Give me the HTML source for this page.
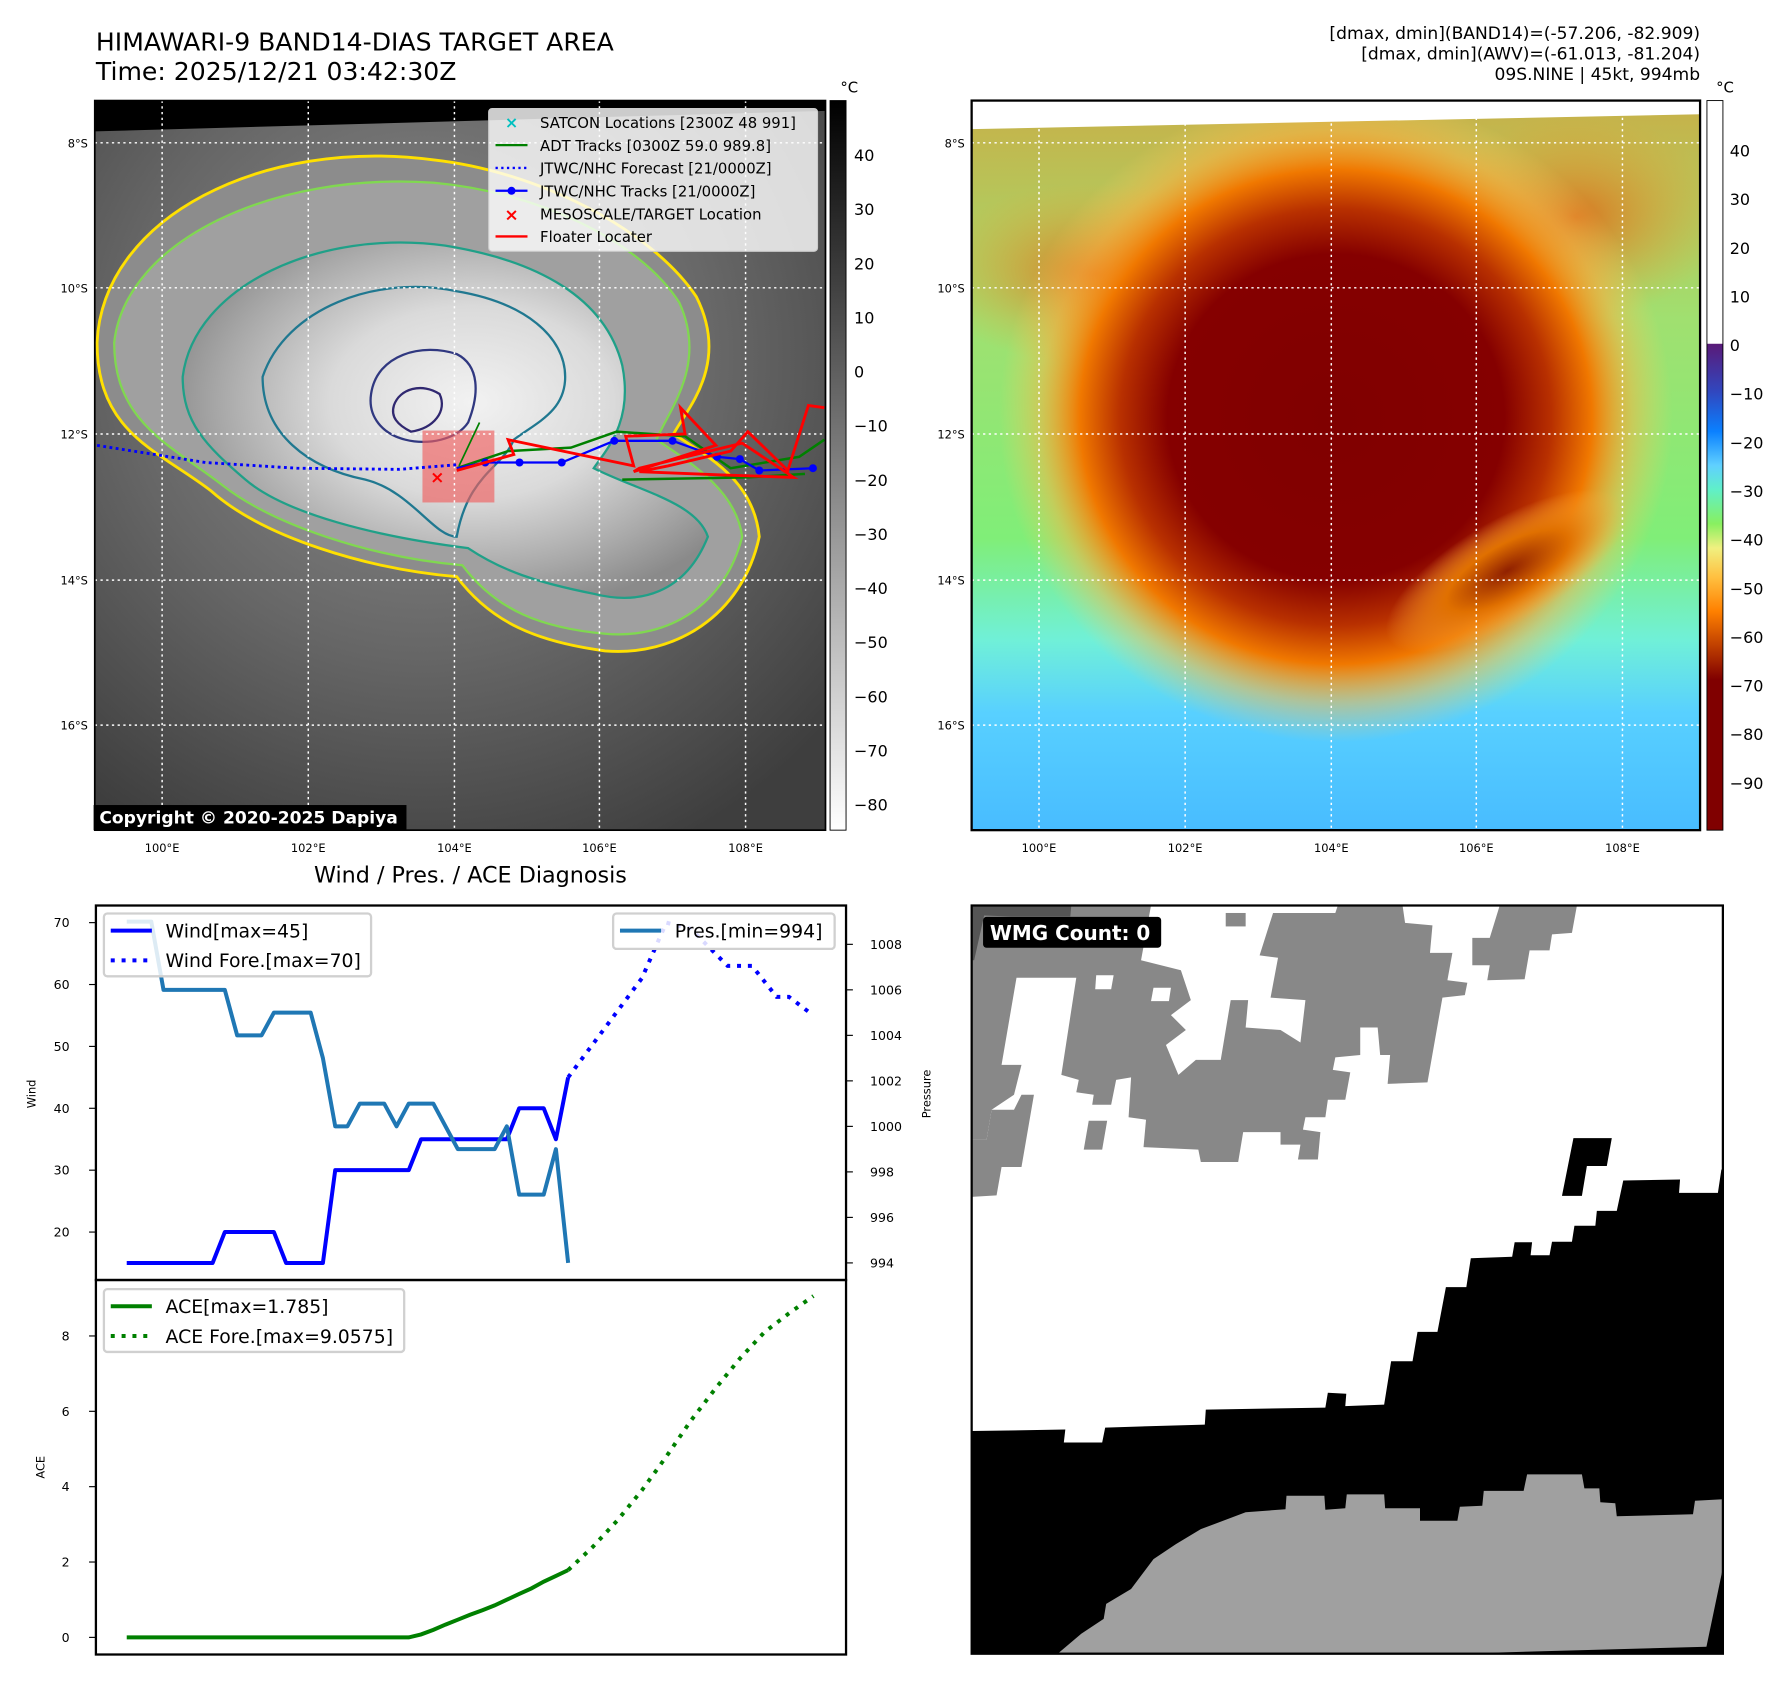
<!DOCTYPE html>
<html><head><meta charset="utf-8"><style>
html,body{margin:0;padding:0;background:#fff;}
svg{display:block;font-family:"DejaVu Sans","Liberation Sans",sans-serif;}
</style></head><body>
<svg id="root" width="1788" height="1690" viewBox="0 0 1566 1480" xmlns="http://www.w3.org/2000/svg">
<defs>
<radialGradient id="cloudG" cx="0.55" cy="0.45" r="0.6">
<stop offset="0" stop-color="#f2f2f2"/><stop offset="0.45" stop-color="#dadada"/><stop offset="0.8" stop-color="#a8a8a8"/><stop offset="1" stop-color="#8a8a8a"/>
</radialGradient>
<radialGradient id="bgG" cx="0.45" cy="0.35" r="0.75">
<stop offset="0" stop-color="#909090"/><stop offset="0.55" stop-color="#666"/><stop offset="1" stop-color="#3e3e3e"/>
</radialGradient>
<linearGradient id="cbGray" x1="0" y1="0" x2="0" y2="1">
<stop offset="0" stop-color="#000"/><stop offset="1" stop-color="#fff"/>
</linearGradient>
<linearGradient id="cbColor" x1="0" y1="0" x2="0" y2="1">
<stop offset="0" stop-color="#5a1a78"/><stop offset="0.1" stop-color="#3048c0"/><stop offset="0.18" stop-color="#0a80ff"/><stop offset="0.25" stop-color="#60d0ff"/><stop offset="0.3" stop-color="#60f0c8"/><stop offset="0.37" stop-color="#88f060"/><stop offset="0.42" stop-color="#f0f080"/><stop offset="0.48" stop-color="#ffc040"/><stop offset="0.55" stop-color="#ff8000"/><stop offset="0.62" stop-color="#c04000"/><stop offset="0.69" stop-color="#800000"/><stop offset="1" stop-color="#800000"/>
</linearGradient>
<linearGradient id="irBase" x1="0" y1="0" x2="0" y2="1">
<stop offset="0" stop-color="#c8b048"/><stop offset="0.3" stop-color="#a0e070"/><stop offset="0.6" stop-color="#80ee78"/><stop offset="0.74" stop-color="#70f0d8"/><stop offset="0.84" stop-color="#58d0ff"/><stop offset="1" stop-color="#48bcff"/>
</linearGradient>
<radialGradient id="irCore" cx="0.5" cy="0.5" r="0.5">
<stop offset="0" stop-color="#800000"/><stop offset="0.5" stop-color="#850000"/><stop offset="0.64" stop-color="#b83000"/><stop offset="0.76" stop-color="#f07800"/><stop offset="0.88" stop-color="#ffb040" stop-opacity="0.5"/><stop offset="1" stop-color="#ffd060" stop-opacity="0"/>
</radialGradient>
<radialGradient id="armG" cx="0.5" cy="0.5" r="0.5">
<stop offset="0" stop-color="#902000"/><stop offset="0.5" stop-color="#e07000"/><stop offset="1" stop-color="#ffb040" stop-opacity="0"/>
</radialGradient>
<radialGradient id="bandG" cx="0.5" cy="0.5" r="0.5">
<stop offset="0" stop-color="#e06010" stop-opacity="0.8"/><stop offset="1" stop-color="#f0a030" stop-opacity="0"/>
</radialGradient>
<clipPath id="clipL"><rect x="83" y="88" width="640" height="639"/></clipPath>
<clipPath id="clipR"><rect x="851" y="88" width="638" height="639"/></clipPath>
</defs>

<!-- titles -->
<text x="84" y="44" font-size="22">HIMAWARI-9 BAND14-DIAS TARGET AREA</text>
<text x="84" y="70" font-size="22">Time: 2025/12/21 03:42:30Z</text>
<g font-size="15" text-anchor="end">
<text x="1489" y="34">[dmax, dmin](BAND14)=(-57.206, -82.909)</text>
<text x="1489" y="52">[dmax, dmin](AWV)=(-61.013, -81.204)</text>
<text x="1489" y="70">09S.NINE | 45kt, 994mb</text>
</g>

<!-- left map -->
<g clip-path="url(#clipL)">
<rect x="83" y="88" width="640" height="639" fill="url(#bgG)"/>
<polygon points="83,88 723,88 723,97 83,115" fill="#000"/>
<path d="M85,300 C90,190 230,120 380,140 C470,150 570,200 610,260 C640,320 600,360 590,380 C620,400 660,420 665,470 C650,540 590,575 530,570 C470,562 430,545 400,505 C320,498 230,470 185,430 C140,395 85,380 85,300 Z" fill="#8c8c8c" stroke="#ffe000" stroke-width="2.5"/>
<path d="M100,300 C110,210 240,150 380,160 C470,168 560,210 595,265 C620,320 585,360 575,385 C605,405 645,430 650,470 C635,530 585,560 530,555 C475,550 435,535 405,495 C325,488 240,460 195,425 C150,390 100,370 100,300 Z" fill="#a0a0a0" stroke="#80d850" stroke-width="2"/>
<path d="M160,330 C170,250 280,200 390,215 C470,228 530,260 545,320 C555,370 530,395 520,410 C560,430 610,440 620,470 C600,520 560,530 520,520 C470,510 440,500 410,480 C330,470 250,450 215,420 C180,390 160,370 160,330 Z" fill="url(#cloudG)" stroke="#20a088" stroke-width="2"/>
<path d="M230,330 C250,270 330,240 400,255 C460,265 495,295 495,330 C495,360 470,370 450,385 C440,410 410,415 400,470 C380,470 360,430 320,420 C270,410 230,380 230,330 Z" fill="none" stroke="#207890" stroke-width="2"/>
<path d="M325,345 C330,310 370,300 400,310 C420,320 420,345 410,370 C400,385 375,390 355,385 C335,380 322,365 325,345 Z" fill="none" stroke="#303880" stroke-width="2"/>
<path d="M345,355 C350,340 370,335 385,345 C392,360 380,375 360,378 C348,372 342,365 345,355 Z" fill="none" stroke="#302870" stroke-width="2"/>
<rect x="370" y="377" width="63" height="63" fill="#f06060" fill-opacity="0.65"/>
<g stroke="#fff" stroke-width="1.3" stroke-dasharray="2,3">
<line x1="83" y1="125" x2="723" y2="125"/><line x1="83" y1="252" x2="723" y2="252"/><line x1="83" y1="380" x2="723" y2="380"/><line x1="83" y1="508" x2="723" y2="508"/><line x1="83" y1="635" x2="723" y2="635"/>
<line x1="142" y1="88" x2="142" y2="727"/><line x1="270" y1="88" x2="270" y2="727"/><line x1="398" y1="88" x2="398" y2="727"/><line x1="525" y1="88" x2="525" y2="727"/><line x1="653" y1="88" x2="653" y2="727"/>
</g>
<polyline points="85,390 180,405 260,410 350,411 400,407" fill="none" stroke="#0000ff" stroke-width="2.5" stroke-dasharray="2.5,3"/>
<polyline points="400,410 445,395 500,392 540,378 600,382 640,410 700,400 722,385" fill="none" stroke="#008000" stroke-width="2.2"/>
<polyline points="545,420 655,418 705,415" fill="none" stroke="#008000" stroke-width="2.2"/>
<line x1="402" y1="408" x2="420" y2="370" stroke="#008000" stroke-width="1.5"/>
<polyline points="400,410 425,405 455,405 492,405 538,386 589,386 628,400 648,402 665,412 712,410" fill="none" stroke="#0000ff" stroke-width="2"/>
<g fill="#0000ff"><circle cx="425" cy="405" r="3.5"/><circle cx="455" cy="405" r="3.5"/><circle cx="492" cy="405" r="3.5"/><circle cx="538" cy="386" r="3.5"/><circle cx="589" cy="386" r="3.5"/><circle cx="628" cy="400" r="3.5"/><circle cx="648" cy="402" r="3.5"/><circle cx="665" cy="412" r="3.5"/><circle cx="712" cy="410" r="3.5"/></g>
<polyline points="400,412 450,398 445,385 555,408 548,382 600,380 596,357 627,390 555,413 560,410 650,388 695,418 635,416 560,413 585,408 640,395 655,378 690,412 708,355 722,357" fill="none" stroke="#ff0000" stroke-width="2.5"/>
<text x="383" y="423" font-size="15" font-weight="bold" fill="#ff0000" text-anchor="middle">×</text>
</g>
<rect x="83" y="88" width="640" height="639" fill="none" stroke="#000" stroke-width="1.5"/>
<g>
<rect x="428" y="95" width="288" height="125" rx="3" fill="#fff" fill-opacity="0.8" stroke="#ccc"/>
<text x="448" y="112" font-size="14" font-weight="bold" fill="#00c0c0" text-anchor="middle">×</text>
<line x1="434" y1="127" x2="462" y2="127" stroke="#008000" stroke-width="2"/>
<line x1="434" y1="147" x2="462" y2="147" stroke="#0000ff" stroke-width="2" stroke-dasharray="2,3"/>
<line x1="434" y1="167" x2="462" y2="167" stroke="#0000ff" stroke-width="2"/><circle cx="448" cy="167" r="3.5" fill="#0000ff"/>
<text x="448" y="193" font-size="15" font-weight="bold" fill="#ff0000" text-anchor="middle">×</text>
<line x1="434" y1="207" x2="462" y2="207" stroke="#ff0000" stroke-width="2"/>
<g font-size="13" fill="#000">
<text x="473" y="112">SATCON Locations [2300Z 48 991]</text>
<text x="473" y="132">ADT Tracks [0300Z 59.0 989.8]</text>
<text x="473" y="152">JTWC/NHC Forecast [21/0000Z]</text>
<text x="473" y="172">JTWC/NHC Tracks [21/0000Z]</text>
<text x="473" y="192">MESOSCALE/TARGET Location</text>
<text x="473" y="212">Floater Locater</text>
</g></g>
<rect x="82" y="705" width="274" height="22" fill="#000"/>
<text x="87" y="721" font-size="15" font-weight="bold" fill="#fff">Copyright © 2020-2025 Dapiya</text>
<g font-size="10" text-anchor="end">
<text x="77" y="129">8°S</text><text x="77" y="256">10°S</text><text x="77" y="384">12°S</text><text x="77" y="512">14°S</text><text x="77" y="639">16°S</text></g>
<g font-size="10" text-anchor="middle">
<text x="142" y="746">100°E</text><text x="270" y="746">102°E</text><text x="398" y="746">104°E</text><text x="525" y="746">106°E</text><text x="653" y="746">108°E</text></g>
<rect x="727" y="88" width="14" height="639" fill="url(#cbGray)" stroke="#000" stroke-width="0.8"/>
<text x="736" y="81" font-size="13">°C</text>
<g id="cbLeftLabels" font-size="14"></g>

<!-- right map -->
<g clip-path="url(#clipR)">
<rect x="851" y="88" width="638" height="639" fill="url(#irBase)"/>
<ellipse cx="960" cy="240" rx="150" ry="80" fill="url(#bandG)"/>
<ellipse cx="1380" cy="190" rx="130" ry="90" fill="url(#bandG)"/>
<ellipse cx="1170" cy="365" rx="295" ry="285" fill="url(#irCore)"/>
<ellipse cx="1320" cy="500" rx="120" ry="45" transform="rotate(-30 1320 500)" fill="url(#armG)"/>
<polygon points="851,88 1489,88 1489,100 851,113" fill="#fff"/>
<g stroke="#fff" stroke-width="1.3" stroke-dasharray="2,3">
<line x1="851" y1="125" x2="1489" y2="125"/><line x1="851" y1="252" x2="1489" y2="252"/><line x1="851" y1="380" x2="1489" y2="380"/><line x1="851" y1="508" x2="1489" y2="508"/><line x1="851" y1="635" x2="1489" y2="635"/>
<line x1="910" y1="88" x2="910" y2="727"/><line x1="1038" y1="88" x2="1038" y2="727"/><line x1="1166" y1="88" x2="1166" y2="727"/><line x1="1293" y1="88" x2="1293" y2="727"/><line x1="1421" y1="88" x2="1421" y2="727"/>
</g></g>
<rect x="851" y="88" width="638" height="639" fill="none" stroke="#000" stroke-width="2"/>
<g font-size="10" text-anchor="end">
<text x="845" y="129">8°S</text><text x="845" y="256">10°S</text><text x="845" y="384">12°S</text><text x="845" y="512">14°S</text><text x="845" y="639">16°S</text></g>
<g font-size="10" text-anchor="middle">
<text x="910" y="746">100°E</text><text x="1038" y="746">102°E</text><text x="1166" y="746">104°E</text><text x="1293" y="746">106°E</text><text x="1421" y="746">108°E</text></g>
<rect x="1495" y="88" width="14" height="213" fill="#fff"/>
<rect x="1495" y="301" width="14" height="426" fill="url(#cbColor)"/>
<rect x="1495" y="88" width="14" height="639" fill="none" stroke="#000" stroke-width="0.8"/>
<text x="1503" y="81" font-size="13">°C</text>
<g id="cbRightLabels" font-size="14"></g>

<!-- diagnosis chart -->
<text x="412" y="773" font-size="19.5" text-anchor="middle">Wind / Pres. / ACE Diagnosis</text>
<g id="chart"></g>

<!-- WMG panel -->
<g transform="translate(842.3,779.9) scale(0.4363)">
<rect x="20" y="30" width="1508" height="1502" fill="#fff"/>
<polygon fill="#888" points="20,30 380,30 360,140 440,160 460,220 420,250 450,280 410,310 435,370 470,340 520,340 540,220 575,220 570,275 640,280 680,305 690,220 620,215 635,135 598,130 625,45 750,45 755,30 885,30 890,65 945,70 940,125 985,125 975,180 1015,185 1010,210 965,215 935,385 855,388 860,330 840,330 835,275 800,275 800,330 750,335 745,360 780,365 770,420 735,420 730,455 690,455 685,480 720,485 715,540 675,540 680,510 640,510 640,485 565,485 555,545 480,545 475,520 365,515 370,460 335,455 340,375 310,380 300,430 262,430 265,410 230,405 235,380 200,370 230,175 110,175 80,350 120,350 105,410 60,440 50,500 20,500"/>
<polygon fill="#888" points="20,500 50,500 60,440 105,440 120,410 145,410 120,555 80,555 70,612 20,615"/>
<polygon fill="#888" points="1025,95 1060,95 1080,30 1235,30 1225,85 1185,88 1180,120 1140,120 1130,178 1055,180 1060,150 1025,150"/>
<rect x="530" y="45" width="40" height="27" fill="#888"/>
<polygon fill="#888" points="255,462 292,462 282,520 245,520"/>
<polygon fill="#fff" points="270,170 305,170 300,198 268,198"/>
<polygon fill="#fff" points="385,195 420,195 416,222 380,222"/>
<polygon fill="#555" points="20,30 220,30 218,52 100,52 45,50 25,140 20,140"/>
<polygon fill="#000" points="20,1085 208,1082 205,1108 282,1108 288,1078 488,1072 490,1042 730,1038 735,1008 772,1010 770,1035 848,1032 862,945 905,945 915,886 955,886 972,796 1013,796 1022,738 1105,735 1110,706 1145,706 1142,732 1180,732 1185,705 1225,705 1230,673 1272,673 1275,643 1315,643 1328,582 1442,580 1440,607 1518,607 1525,560 1528,560 1528,1532 20,1532"/>
<polygon fill="#000" points="1228,497 1305,497 1295,553 1255,553 1245,613 1205,613"/>
<polygon fill="#a0a0a0" points="195,1530 240,1492 285,1462 290,1432 340,1402 385,1342 430,1312 480,1282 570,1248 650,1242 652,1215 728,1215 730,1243 770,1240 773,1212 848,1212 850,1240 920,1240 920,1265 995,1265 1000,1237 1045,1235 1048,1205 1128,1205 1135,1172 1245,1172 1250,1200 1280,1200 1282,1228 1312,1230 1315,1256 1468,1252 1472,1225 1528,1222 1528,1360 1495,1518 1060,1530"/>
<rect x="20" y="30" width="1508" height="1502" fill="none" stroke="#000" stroke-width="4.5"/>
</g>
<rect x="861" y="803" width="156" height="27" rx="3" fill="#000"/>
<text x="867" y="823" font-size="17.5" font-weight="bold" fill="#fff">WMG Count: 0</text>
</svg>
<script>
// ---- chart data ----
const windObs = [15,15,15,15,15,15,15,15,20,20,20,20,20,15,15,15,15,30,30,30,30,30,30,30,35,35,35,35,35,35,35,35,40,40,40,35,45];
const presObs = [1009,1009,1009,1006,1006,1006,1006,1006,1006,1004,1004,1004,1005,1005,1005,1005,1003,1000,1000,1001,1001,1001,1000,1001,1001,1001,1000,999,999,999,999,1000,997,997,997,999,994];
const windForeX = [36,39,42,44,46,48,49,51,53,54,56];
const windFore = [45,53,61,70,69,65,63,63,58,58,55];
const aceObs = [0,0,0,0,0,0,0,0,0,0,0,0,0,0,0,0,0,0,0,0,0,0,0,0,0.08,0.2,0.34,0.47,0.6,0.72,0.85,1.0,1.15,1.3,1.48,1.63,1.785];
const aceForeX = [36,38,40,42,44,46,48,50,52,54,56];
const aceFore = [1.785,2.4,3.1,3.9,4.8,5.75,6.6,7.4,8.1,8.6,9.06];
const windTicks = [20,30,40,50,60,70];
const presTicks = [994,996,998,1000,1002,1004,1006,1008];
const aceTicks = [0,2,4,6,8];
const grayCbTicks = [40,30,20,10,0,-10,-20,-30,-40,-50,-60,-70,-80];
const colorCbTicks = [40,30,20,10,0,-10,-20,-30,-40,-50,-60,-70,-80,-90];

const NS = "http://www.w3.org/2000/svg";
function mk(tag, attrs, parent){const e=document.createElementNS(NS,tag);for(const k in attrs)e.setAttribute(k,attrs[k]);parent.appendChild(e);return e;}
const xS = i => 111 + i*10.74;
const yW = v => 808 + (70-v)*5.42;
const yP = p => 827 + (1008-p)*19.93;
const yA = a => 1434 - a*33;
const chart = document.getElementById('chart');

const cbL = document.getElementById('cbLeftLabels');
grayCbTicks.forEach(t=>{const e=mk('text',{x:748,y:(136+(40-t)*4.74+5).toFixed(1)},cbL);e.textContent=String(t).replace('-','\u2212');

});
const cbR = document.getElementById('cbRightLabels');
colorCbTicks.forEach(t=>{const e=mk('text',{x:1515,y:(132+(40-t)*4.26+5).toFixed(1)},cbR);e.textContent=String(t).replace('-','\u2212');

});

const f1 = mk('rect',{x:84,y:793,width:657,height:328,fill:'none',stroke:'#000','stroke-width':2},chart);


const f2 = mk('rect',{x:84,y:1121,width:657,height:328,fill:'none',stroke:'#000','stroke-width':2},chart);



windTicks.forEach(t=>{const y=yW(t);mk('line',{x1:78,y1:y,x2:84,y2:y,stroke:'#000'},chart);
const e=mk('text',{x:61,y:y+4,'font-size':11,'text-anchor':'end'},chart);e.textContent=t;

});
presTicks.forEach(t=>{const y=yP(t);mk('line',{x1:741,y1:y,x2:747,y2:y,stroke:'#000'},chart);
const e=mk('text',{x:762,y:y+4,'font-size':11},chart);e.textContent=t;

});
aceTicks.forEach(t=>{const y=yA(t);mk('line',{x1:78,y1:y,x2:84,y2:y,stroke:'#000'},chart);
const e=mk('text',{x:61,y:y+4,'font-size':11,'text-anchor':'end'},chart);e.textContent=t;

});
function ytitle(txt,x,y,name){const e=mk('text',{x:x,y:y,'font-size':10,'text-anchor':'middle',transform:`rotate(-90 ${x} ${y})`},chart);e.textContent=txt;

}
ytitle('Wind',31,958,'wind-axis-title');
ytitle('Pressure',815,958,'pressure-axis-title');
ytitle('ACE',39,1285,'ace-axis-title');

function pts(xs,ys,fy){return ys.map((v,i)=>xS(xs?xs[i]:i).toFixed(1)+','+fy(v).toFixed(1)).join(' ');}
const lw = mk('polyline',{points:pts(null,windObs,yW),fill:'none',stroke:'#0000ff','stroke-width':3.5,'stroke-linejoin':'round'},chart);


const lwf = mk('polyline',{points:pts(windForeX,windFore,yW),fill:'none',stroke:'#0000ff','stroke-width':3.5,'stroke-dasharray':'3.5,6'},chart);


const lp = mk('polyline',{points:pts(null,presObs,yP),fill:'none',stroke:'#1f77b4','stroke-width':3.5,'stroke-linejoin':'round'},chart);


const la = mk('polyline',{points:pts(null,aceObs,yA),fill:'none',stroke:'#008000','stroke-width':3.5},chart);


const laf = mk('polyline',{points:pts(aceForeX,aceFore,yA),fill:'none',stroke:'#008000','stroke-width':3.5,'stroke-dasharray':'3.5,6'},chart);



function legend(x,y,w,h,entries,name){
 const g=mk('g',{},chart);
 
 
 mk('rect',{x:x,y:y,width:w,height:h,rx:3,fill:'#fff','fill-opacity':0.85,stroke:'#d0d0d0','stroke-width':2},g);
 entries.forEach((en,i)=>{const cy=y+15+i*26;
  const a={x1:x+6,y1:cy,x2:x+42,y2:cy,stroke:en[1],'stroke-width':3.5};if(en[2])a['stroke-dasharray']='3.5,6';
  mk('line',a,g);const t=mk('text',{x:x+54,y:cy+6,'font-size':16.5},g);t.textContent=en[0];});
}
legend(91,800,234,55,[['Wind[max=45]','#0000ff',false],['Wind Fore.[max=70]','#0000ff',true]],'wind-legend');
legend(537,800,194,31,[['Pres.[min=994]','#1f77b4',false]],'pressure-legend');
legend(91,1129,263,55,[['ACE[max=1.785]','#008000',false],['ACE Fore.[max=9.0575]','#008000',true]],'ace-legend');
</script>
</body></html>
